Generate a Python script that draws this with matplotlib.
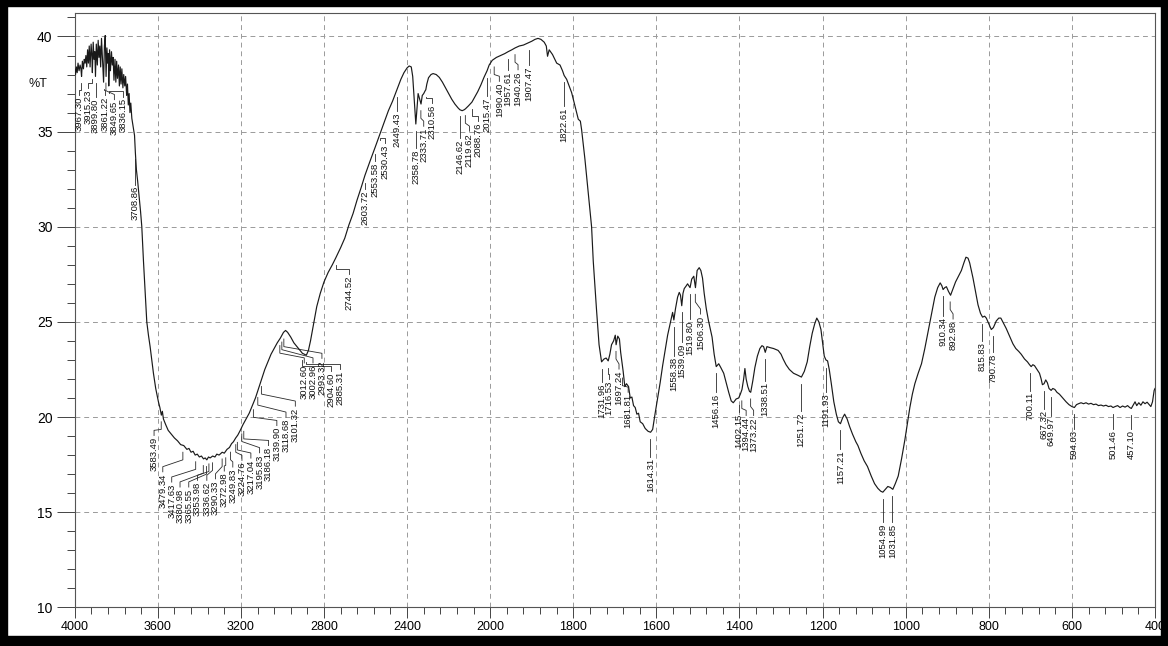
import numpy as np
import matplotlib
matplotlib.use("Agg")
import matplotlib.pyplot as plt
from matplotlib.patches import Rectangle

# ---- IR spectrum: wavenumber (cm-1) and transmittance (%T) ----
wavenumber = [
    4000, 3996, 3992, 3988, 3984, 3979, 3974, 3970, 3967, 3963,
    3958, 3954, 3950, 3946, 3942, 3938, 3934, 3930, 3926, 3921,
    3917, 3915, 3911, 3907, 3903, 3900, 3896, 3891, 3887, 3883,
    3879, 3875, 3871, 3866, 3861, 3857, 3853, 3849, 3845, 3841,
    3838, 3836, 3832, 3828, 3823, 3819, 3815, 3811, 3806, 3802,
    3798, 3794, 3789, 3785, 3781, 3777, 3773, 3768, 3764, 3759,
    3755, 3750, 3746, 3742, 3738, 3734, 3730, 3725, 3718, 3712, 3708,
    3703, 3697, 3690, 3683, 3677, 3669, 3661, 3653, 3645, 3637,
    3629, 3621, 3610, 3597, 3590, 3583, 3578, 3573, 3562, 3550,
    3535, 3520, 3505, 3490, 3475, 3460, 3450, 3440, 3430, 3420,
    3410, 3400, 3390, 3380, 3372, 3364, 3356, 3348, 3336, 3325,
    3316, 3305, 3290, 3280, 3267, 3255, 3245, 3236, 3225, 3215,
    3203, 3190, 3175, 3160, 3145, 3130, 3115, 3100, 3085, 3070,
    3055, 3040, 3025, 3010, 2995, 2985, 2975, 2960, 2945, 2930,
    2915, 2904, 2895, 2885, 2875, 2865, 2855, 2845, 2835, 2818,
    2800, 2780, 2760, 2744, 2720, 2700, 2680, 2660, 2641, 2620,
    2603, 2580, 2553, 2530, 2510, 2490, 2470, 2449, 2430, 2415,
    2400, 2390, 2380, 2373, 2367, 2362, 2358, 2352, 2347, 2342,
    2337, 2333, 2327, 2320, 2313, 2310, 2305, 2297, 2285, 2275,
    2260, 2245, 2230, 2215, 2200, 2185, 2170, 2155, 2146, 2135,
    2125, 2119, 2105, 2088, 2075, 2060, 2045, 2030, 2015, 2005,
    1995, 1985, 1975, 1965, 1957, 1948, 1940, 1930, 1920, 1910,
    1900, 1892, 1885, 1878, 1870, 1865, 1862, 1858, 1850, 1840,
    1832, 1826, 1822, 1816, 1810, 1804, 1796, 1788, 1783, 1780,
    1772, 1764, 1756, 1752, 1744, 1738, 1732, 1726, 1721, 1716,
    1712, 1708, 1703, 1699, 1697, 1693, 1689, 1686, 1683, 1680,
    1676, 1672, 1667, 1663, 1659, 1655, 1651, 1647, 1643, 1639,
    1633, 1627, 1620, 1614, 1609, 1603, 1597, 1591, 1585, 1579,
    1573, 1567, 1561, 1558, 1554, 1549, 1545, 1542, 1539, 1536,
    1533, 1528, 1525, 1519, 1515, 1510, 1506, 1502, 1497, 1493,
    1489, 1485, 1480, 1475, 1470, 1466, 1461, 1456, 1450, 1445,
    1438, 1432, 1426, 1420, 1415, 1408, 1402, 1398, 1394, 1390,
    1387, 1384, 1380, 1376, 1373, 1368, 1363, 1357, 1351, 1346,
    1342, 1338, 1334, 1327, 1318, 1307, 1300, 1295, 1288, 1280,
    1270, 1260, 1251, 1244, 1237, 1231, 1225, 1219, 1214, 1209,
    1204, 1200, 1196, 1192, 1188, 1184, 1179, 1173, 1167, 1162,
    1157, 1152, 1147, 1141, 1135, 1128, 1120, 1115, 1108, 1100,
    1092, 1083, 1075, 1067, 1060, 1055, 1049, 1043, 1037, 1031,
    1025, 1018, 1010, 1002, 995, 990, 984, 978, 970, 962,
    954, 946, 938, 930, 923, 917, 913, 910, 906, 902,
    897, 892, 886, 880, 873, 866, 860, 855, 850, 846,
    842, 838, 832, 826, 820, 815, 810, 806, 800, 794,
    789, 782, 776, 771, 765, 758, 750, 742, 735, 728,
    722, 714, 707, 702, 698, 694, 690, 684, 678, 674,
    671, 667, 663, 659, 655, 650, 646, 641, 636, 630,
    622, 614, 607, 600, 594, 589, 584, 578, 572, 566,
    560, 554, 548, 542, 536, 530, 524, 518, 512, 506,
    501, 496, 490, 484, 478, 472, 466, 461, 457, 452,
    448, 444, 439, 434, 429, 424, 419, 414, 410, 406,
    402, 400,
]
transmittance = [
    38.3, 38.0, 38.4, 38.1, 38.6, 38.2, 38.5, 38.3, 37.9, 38.7,
    38.3, 38.8, 38.6, 39.0, 38.4, 39.3, 38.6, 39.5, 38.4, 39.6,
    38.9, 38.1, 39.7, 38.8, 39.2, 37.9, 39.6, 38.5, 39.8, 38.9,
    39.5, 38.4, 39.9, 38.8, 37.6, 39.5, 40.05, 37.9, 39.4, 38.6,
    39.1, 37.4, 39.3, 38.2, 39.2, 38.5, 38.9, 37.7, 38.8, 37.6,
    38.7, 37.8, 38.5, 37.4, 38.4, 37.5, 38.3, 37.3, 38.0, 37.4,
    37.9, 36.9, 37.5, 36.4, 37.0, 36.0, 36.5, 35.7, 35.2, 34.8, 33.9,
    33.0, 32.4, 31.6, 30.8, 30.0, 28.2, 26.6, 25.0, 24.3, 23.7,
    23.0, 22.3, 21.5, 20.8, 20.5, 20.1, 20.3, 19.9, 19.6, 19.3,
    19.1, 18.9, 18.75, 18.55, 18.5, 18.3, 18.35, 18.15, 18.2, 18.0,
    18.05, 17.9, 17.95, 17.8, 17.85, 17.75, 17.9, 17.85, 17.95, 17.9,
    18.05, 18.0, 18.15, 18.1, 18.3, 18.4, 18.6, 18.7, 18.9, 19.05,
    19.3, 19.6, 19.9, 20.2, 20.6, 21.0, 21.5, 22.0, 22.5, 22.9,
    23.3, 23.6, 23.9, 24.15, 24.45, 24.55, 24.45, 24.2, 23.9, 23.7,
    23.5, 23.35, 23.3, 23.25, 23.5, 24.0, 24.6, 25.2, 25.8, 26.5,
    27.1, 27.6, 28.0, 28.35, 28.9, 29.4, 30.1, 30.7, 31.4, 32.1,
    32.7, 33.4, 34.2, 34.9, 35.5, 36.1, 36.6, 37.2, 37.75, 38.1,
    38.35, 38.45, 38.4, 37.9, 36.9, 36.0, 35.4, 36.3, 37.0, 36.8,
    36.6, 36.45, 36.9, 37.0, 37.15, 37.2, 37.5, 37.83, 38.0, 38.05,
    38.0, 37.85, 37.6, 37.3, 37.0, 36.7, 36.45, 36.25, 36.15, 36.1,
    36.15, 36.2, 36.35, 36.55, 36.8, 37.1, 37.45, 37.85, 38.2, 38.5,
    38.75, 38.9, 39.0, 39.1, 39.2, 39.3, 39.4, 39.5, 39.55, 39.65,
    39.75, 39.85, 39.9, 39.85, 39.7, 39.5, 38.96, 39.3, 39.05, 38.6,
    38.5, 38.2, 37.95, 37.75, 37.4, 37.05, 36.35, 35.65, 35.55, 35.1,
    33.55, 31.8, 30.0, 28.2, 25.6, 23.8, 22.9, 23.05, 23.1, 22.95,
    23.3, 23.8, 24.0, 24.3, 23.8, 24.25, 24.1, 23.4, 22.9, 22.4,
    21.6, 21.75, 21.6, 21.0, 21.05, 20.6, 20.5, 20.15, 20.2, 19.75,
    19.65, 19.4, 19.25, 19.2, 19.35, 20.2, 21.0, 21.8, 22.7, 23.5,
    24.3, 24.9, 25.5, 25.1, 25.7, 26.3, 26.55, 26.4, 25.85, 26.5,
    26.75, 26.9, 27.0, 26.8, 27.25, 27.4, 26.8, 27.7, 27.85, 27.7,
    27.3, 26.5, 25.7, 25.1, 24.6, 24.2, 23.3, 22.65, 22.8, 22.6,
    22.3, 21.8, 21.3, 20.85, 20.75, 20.95, 21.0, 21.2, 21.45, 22.0,
    22.55, 22.0, 21.6, 21.35, 21.3, 21.9, 22.6, 23.2, 23.6, 23.75,
    23.7, 23.4, 23.7, 23.65, 23.6, 23.5, 23.3, 23.05, 22.75, 22.5,
    22.3, 22.2, 22.1, 22.4, 22.9, 23.7, 24.4, 24.9, 25.2, 25.0,
    24.6, 23.9, 23.2, 23.0, 22.95, 22.5, 21.75, 20.8, 20.15, 19.75,
    19.65, 19.95, 20.15, 19.9, 19.5, 19.1, 18.7, 18.5, 18.1, 17.7,
    17.4, 16.9, 16.5, 16.25, 16.1, 16.05, 16.2, 16.35, 16.3, 16.2,
    16.5, 16.9, 17.8, 18.8, 19.8, 20.5, 21.2, 21.75, 22.3, 22.8,
    23.6, 24.5, 25.4, 26.3, 26.8, 27.05, 26.9, 26.7, 26.8, 26.85,
    26.6, 26.4, 26.75, 27.1, 27.4, 27.7, 28.1, 28.4, 28.35, 28.1,
    27.7, 27.3, 26.6, 25.9, 25.45, 25.25, 25.3, 25.2, 24.9, 24.6,
    24.7, 25.05, 25.2, 25.2, 24.95, 24.65, 24.25, 23.85, 23.6, 23.45,
    23.3, 23.05, 22.9, 22.75, 22.65, 22.75, 22.7, 22.5, 22.3, 22.0,
    21.7, 21.75, 21.95, 21.8, 21.5, 21.4, 21.5, 21.45, 21.3, 21.2,
    21.0, 20.8, 20.65, 20.55, 20.5, 20.65, 20.7, 20.75, 20.7, 20.75,
    20.68, 20.72, 20.65, 20.68, 20.6, 20.63, 20.58, 20.62, 20.55, 20.58,
    20.5, 20.55, 20.6, 20.5, 20.58, 20.52, 20.6, 20.5, 20.45, 20.65,
    20.8, 20.6, 20.75, 20.62, 20.8, 20.7, 20.78, 20.65, 20.55, 20.8,
    21.4, 21.5,
]

# ---- peak-pick labels ----
peak_labels = [
    3967.30, 3915.23, 3899.80, 3861.22, 3849.65, 3836.15, 3708.86,
    3583.49, 3479.34, 3417.63, 3380.98, 3365.55, 3353.98, 3336.62,
    3290.33, 3272.98, 3249.83, 3224.76, 3217.04, 3195.83, 3186.18,
    3139.90, 3118.68, 3101.32, 3012.60, 3002.96, 2993.32, 2904.60,
    2885.31, 2744.52, 2603.72, 2553.58, 2530.43, 2449.43, 2358.78,
    2333.71, 2310.56, 2146.62, 2119.62, 2088.76, 2015.47, 1990.40,
    1957.61, 1940.26, 1907.47, 1822.61, 1731.96, 1716.53, 1697.24,
    1681.81, 1614.31, 1558.38, 1539.09, 1519.80, 1506.30, 1456.16,
    1402.15, 1394.44, 1373.22, 1338.51, 1251.72, 1191.93, 1157.21,
    1054.99, 1031.85, 910.34, 892.98, 815.83, 790.78, 700.11,
    667.32, 649.97, 594.03, 501.46, 457.10,
]

# label placement: text centre (cm-1, None = directly below the peak) and text top (%T)
label_text_x = [
    3978, 3937, None, 3854, 3809, 3766, None,
    3618, 3576, 3533, 3493, 3451, 3409, 3364,
    3322, 3280, 3239, 3195, 3152, 3110, 3067,
    3027, 2983, 2938, 2895, 2853, 2810, 2766,
    2721, 2681, None, None, 2505, None, None,
    2320, 2280, None, 2100, 2058, None, 1978,
    None, 1933, None, None, None, 1714, 1690,
    1668, None, None, None, None, 1494, None,
    None, 1384, 1366, None, None, None, None,
    None, None, None, 886, None, None, None,
    None, None, None, None, None,
]
label_text_top = [
    36.86, 37.23, 36.76, 36.86, 36.6, 36.76, 32.14,
    18.95, 17.04, 16.5, 16.24, 16.24, 16.59, 16.59,
    16.67, 17.08, 17.29, 17.64, 17.76, 18.04, 18.42,
    19.47, 19.91, 20.49, 22.76, 22.76, 23.0, 22.35,
    22.44, 27.43, 31.88, 33.37, 34.33, 36.0, 34.07,
    35.2, 36.4, 34.59, 34.94, 35.47, 36.78, 37.56,
    38.17, 38.17, 38.44, 36.25, 21.75, 21.92, 22.44,
    21.22, 17.83, 23.14, 23.84, 25.07, 25.33, 21.22,
    20.17, 20.0, 20.0, 21.83, 20.26, 21.22, 18.25,
    14.4, 14.4, 25.24, 25.07, 23.93, 23.32, 21.31,
    20.35, 20.0, 19.3, 19.3, 19.3,
]

major_ticks = [4000, 3600, 3200, 2800, 2400, 2000, 1800, 1600, 1400, 1200, 1000, 800, 600, 400]
y_ticks = [10, 15, 20, 25, 30, 35, 40]

wn = np.array(wavenumber, dtype=float)
tr = np.array(transmittance, dtype=float)


# the instrument halves the scale above 2000 cm-1
def _fwd(x):
    x = np.asarray(x, dtype=float)
    return np.where(x > 2000, 2000 + (x - 2000) / 2.0, x)


def _inv(t):
    t = np.asarray(t, dtype=float)
    return np.where(t > 2000, 2000 + (t - 2000) * 2.0, t)


W, H = 1168, 646
fig = plt.figure(figsize=(W / 100, H / 100), dpi=100)
fig.patch.set_facecolor("white")
x0, x1, ytop, ybot = 74.7, 1155.0, 12.7, 607.3
ax = fig.add_axes([x0 / W, 1 - ybot / H, (x1 - x0) / W, (ybot - ytop) / H])

ax.set_xscale("function", functions=(_fwd, _inv))
ax.set_xlim(4000, 400)
ax.set_ylim(10, 41.25)

ax.plot(wn, tr, color="#1a1a1a", lw=0.85, zorder=3)

# axes, ticks, grid
minor_x = [v for v in range(4000, 2000, -80) if v not in major_ticks] + \
          [v for v in range(2000, 399, -40) if v not in major_ticks]
ax.set_xticks(major_ticks)
ax.set_xticks(minor_x, minor=True)
ax.set_xticklabels([str(v) for v in major_ticks])
ax.set_yticks(y_ticks)
ax.set_yticks(np.arange(10, 42, 1), minor=True)
ax.set_yticklabels([str(v) for v in y_ticks])

tick_font = ["Liberation Sans", "DejaVu Sans"]
ax.tick_params(axis="x", which="major", direction="out", length=8, width=0.7,
               color="#444444", labelsize=9, pad=2)
ax.tick_params(axis="x", which="minor", direction="out", length=5, width=0.7, color="#444444")
ax.tick_params(axis="y", which="major", direction="out", length=13, width=0.7,
               color="#444444", labelsize=10, pad=3)
ax.tick_params(axis="y", which="minor", direction="out", length=6, width=0.7, color="#444444")
for lab in ax.get_xticklabels() + ax.get_yticklabels():
    lab.set_family(tick_font)

ax.grid(True, which="major", linestyle=(0, (5, 4)), color="#9a9a9a", lw=0.7, zorder=0)
for side in ["left", "right", "top", "bottom"]:
    ax.spines[side].set_color("#555555")
    ax.spines[side].set_linewidth(0.8)

# peak labels with leader lines
wn_inc, tr_inc = wn[::-1], tr[::-1]


def curve_floor(w):
    near = tr[np.abs(wn - w) <= 5]
    return min(list(near) + [np.interp(w, wn_inc, tr_inc)])


label_font = ["Liberation Sans Narrow", "Liberation Sans", "DejaVu Sans"]
for val, tx, top in zip(peak_labels, label_text_x, label_text_top):
    start = curve_floor(val) - 0.35
    if tx is None:
        xs, ys = [val, val], [start, top + 0.08]
        xt = val
    else:
        k2 = top + 0.35
        k1 = max(start - 0.4, k2)
        xs, ys = [val, val, tx, tx], [start, k1, k2, top + 0.08]
        xt = tx
    ax.plot(xs, ys, color="#2a2a2a", lw=0.6, zorder=2)
    ax.text(xt, top, f"{val:.2f}", rotation=90, ha="center", va="top",
            fontsize=6.8, family=label_font, color="#111111", zorder=4)

fig.text(38 / W, 1 - 84 / H, "%T", ha="center", va="center", fontsize=9,
         family=tick_font, color="#111111")

# dark page frame
for (bx, by, bw, bh) in [(0, 0, 7, H), (W - 7, 0, 7, H), (0, 0, W, 6), (0, H - 10, W, 10)]:
    fig.add_artist(Rectangle((bx / W, 1 - (by + bh) / H), bw / W, bh / H,
                             transform=fig.transFigure, color="black", zorder=20))

fig.savefig("out.png", dpi=100, facecolor="white")
